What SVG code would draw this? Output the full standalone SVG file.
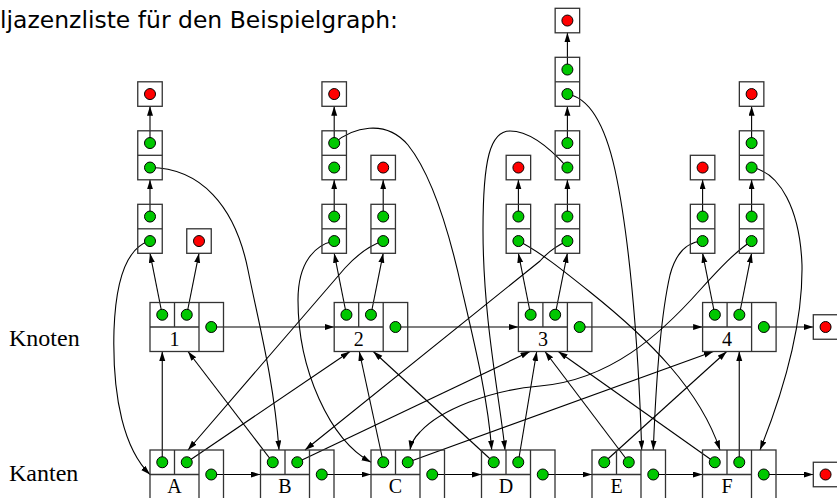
<svg xmlns="http://www.w3.org/2000/svg" xmlns:xlink="http://www.w3.org/1999/xlink" width="837" height="498" viewBox="0 0 837 498">
<style>
.box{fill:none;stroke:#333;stroke-width:1.3}
.g{fill:#00c800;stroke:#000;stroke-width:1}
.r{fill:#ff0000;stroke:#000;stroke-width:1}
.c{fill:none;stroke:#000;stroke-width:1.1;marker-end:url(#ah)}
.lab{font-family:"Liberation Serif","Times New Roman",serif;font-size:20px;text-anchor:middle;fill:#000}
.side{font-family:"Liberation Serif","Times New Roman",serif;font-size:24px;fill:#000}
.title{font-family:"DejaVu Sans","Liberation Sans",sans-serif;font-size:22.5px;fill:#000}
</style>
<defs>
<marker id="ah" markerUnits="userSpaceOnUse" markerWidth="10" markerHeight="7" refX="9.5" refY="3" orient="auto">
<path d="M0,0 L9.5,3 L0,6 z" fill="#000"/>
</marker>
<g id="nodeShape">
<rect class="box" x="0" y="0" width="73.5" height="49"/>
<path class="box" d="M24.5,0 V24.5 M49,0 V49 M0,24.5 H49"/>
<circle class="g" cx="12.25" cy="12.25" r="5.5"/>
<circle class="g" cx="36.75" cy="12.25" r="5.5"/>
<circle class="g" cx="61.25" cy="24.5" r="5.5"/>
</g>
<g id="pair">
<rect class="box" x="0" y="0" width="24.5" height="49"/>
<path class="box" d="M0,24.5 H24.5"/>
<circle class="g" cx="12.25" cy="12.25" r="5.5"/>
<circle class="g" cx="12.25" cy="36.75" r="5.5"/>
</g>
<g id="nil">
<rect class="box" x="0" y="0" width="24.5" height="24.5"/>
<circle class="r" cx="12.25" cy="12.25" r="5.5"/>
</g>
</defs>
<rect x="0" y="0" width="837" height="498" fill="#fff"/>
<text class="title" x="0" y="28.3" textLength="398" lengthAdjust="spacingAndGlyphs">ljazenzliste für den Beispielgraph:</text>
<text class="side" x="9" y="346">Knoten</text>
<text class="side" x="9" y="480.7">Kanten</text>

<g id="connectors">
<!-- list chains -->
<path class="c" d="M150,216.55 V179.8"/>
<path class="c" d="M150,143.05 V106.3"/>
<path class="c" d="M334.2,216.55 V179.8"/>
<path class="c" d="M334.2,143.05 V106.3"/>
<path class="c" d="M383.2,216.55 V179.8"/>
<path class="c" d="M518.4,216.55 V179.8"/>
<path class="c" d="M567.4,216.55 V179.8"/>
<path class="c" d="M567.4,143.05 V106.3"/>
<path class="c" d="M567.4,69.55 V32.8"/>
<path class="c" d="M702.6,216.55 V179.8"/>
<path class="c" d="M751.6,216.55 V179.8"/>
<path class="c" d="M751.6,143.05 V106.3"/>
<!-- Knoten to lists -->
<path class="c" d="M162.25,314.75 L150,253.3"/>
<path class="c" d="M186.75,314.75 L199,253.3"/>
<path class="c" d="M346.45,314.75 L334.2,253.3"/>
<path class="c" d="M370.95,314.75 L383.2,253.3"/>
<path class="c" d="M530.65,314.75 L518.4,253.3"/>
<path class="c" d="M555.15,314.75 L567.4,253.3"/>
<path class="c" d="M714.85,314.75 L702.6,253.3"/>
<path class="c" d="M739.35,314.75 L751.6,253.3"/>
<!-- Knoten chain -->
<path class="c" d="M211.25,327 H334.2"/>
<path class="c" d="M395.45,327 H518.4"/>
<path class="c" d="M579.65,327 H702.6"/>
<path class="c" d="M763.85,327 H813.3"/>
<!-- Kanten chain -->
<path class="c" d="M211.25,474.5 H260.5"/>
<path class="c" d="M321.75,474.5 H371"/>
<path class="c" d="M432.25,474.5 H481.5"/>
<path class="c" d="M542.75,474.5 H592"/>
<path class="c" d="M653.25,474.5 H702.5"/>
<path class="c" d="M763.75,474.5 H813.3"/>
<!-- Kanten to Knoten -->
<path class="c" d="M162.25,462.25 L162.25,351.5"/>
<path class="c" d="M186.75,462.25 L350,351.5"/>
<path class="c" d="M272.75,462.25 L188,351.5"/>
<path class="c" d="M297.25,462.25 L530,351.5"/>
<path class="c" d="M383.25,462.25 L359.3,351.5"/>
<path class="c" d="M407.75,462.25 L713.3,351.5"/>
<path class="c" d="M493.75,462.25 L373.3,351.5"/>
<path class="c" d="M518.25,462.25 L536.7,351.5"/>
<path class="c" d="M604.25,462.25 L726.7,351.5"/>
<path class="c" d="M628.75,462.25 L545,351.5"/>
<path class="c" d="M714.75,462.25 L558.3,351.5"/>
<path class="c" d="M739.25,462.25 L739.25,351.5"/>
<!-- list elements to Kanten -->
<path class="c" d="M150,241.05 C128,247 116,275 114,330 C112,400 125,450 150,474.5"/>
<path class="c" d="M150,167.55 C200,168 235,205 248,270 C258,320 274,380 279,450"/>
<path class="c" d="M334.2,241.05 C315,245 298,262 298,300 C298,370 330,440 371,462.25"/>
<path class="c" d="M334.2,143.05 C352,128 385,118 408,145 C432,175 450,235 462,290 C476,350 488,400 491.7,450"/>
<path class="c" d="M383.2,241.05 C368,246 356,256 345,268 L188,450"/>
<path class="c" d="M518.4,241.05 C540,252 560,268 590,292 C650,340 700,390 720,450"/>
<path class="c" d="M567.4,241.05 C556,246 548,252 540,261 L305,450"/>
<path class="c" d="M567.4,167.55 C550,148 530,131 510,131 C490,131 483,160 483,230 C483,320 500,400 505,450"/>
<path class="c" d="M567.4,94.05 C590,98 605,125 615,170 C628,230 638,330 641.7,450"/>
<path class="c" d="M702.6,241.05 C688,242 676,252 670,275 C662,310 656,380 653.3,450"/>
<path class="c" d="M751.6,241.05 C735,252 720,268 700,290 C660,335 610,380 540,386 C490,390 440,410 420,432 C414,438 411,444 410,450"/>
<path class="c" d="M751.6,167.55 C780,172 800,210 802,265 C803,330 780,400 760,450"/>
</g>

<g id="knoten1"><use xlink:href="#nodeShape" x="150" y="302.5"/><text class="lab" x="174.5" y="346">1</text></g>
<g id="knoten2"><use xlink:href="#nodeShape" x="334.2" y="302.5"/><text class="lab" x="358.7" y="346">2</text></g>
<g id="knoten3"><use xlink:href="#nodeShape" x="518.4" y="302.5"/><text class="lab" x="542.9" y="346">3</text></g>
<g id="knoten4"><use xlink:href="#nodeShape" x="702.6" y="302.5"/><text class="lab" x="727.1" y="346">4</text></g>
<g id="knoten-nil"><use xlink:href="#nil" x="813.3" y="314.75"/></g>

<g id="kanteA"><use xlink:href="#nodeShape" x="150" y="450"/><text class="lab" x="174.5" y="493.3">A</text></g>
<g id="kanteB"><use xlink:href="#nodeShape" x="260.5" y="450"/><text class="lab" x="285" y="493.3">B</text></g>
<g id="kanteC"><use xlink:href="#nodeShape" x="371" y="450"/><text class="lab" x="395.5" y="493.3">C</text></g>
<g id="kanteD"><use xlink:href="#nodeShape" x="481.5" y="450"/><text class="lab" x="506" y="493.3">D</text></g>
<g id="kanteE"><use xlink:href="#nodeShape" x="592" y="450"/><text class="lab" x="616.5" y="493.3">E</text></g>
<g id="kanteF"><use xlink:href="#nodeShape" x="702.5" y="450"/><text class="lab" x="727" y="493.3">F</text></g>
<g id="kanten-nil"><use xlink:href="#nil" x="813.3" y="462.25"/></g>

<g id="list1a">
<use xlink:href="#pair" x="137.75" y="204.3"/>
<use xlink:href="#pair" x="137.75" y="130.8"/>
<use xlink:href="#nil" x="137.75" y="81.8"/>
</g>
<g id="list1b"><use xlink:href="#nil" x="186.75" y="228.8"/></g>
<g id="list2a">
<use xlink:href="#pair" x="321.95" y="204.3"/>
<use xlink:href="#pair" x="321.95" y="130.8"/>
<use xlink:href="#nil" x="321.95" y="81.8"/>
</g>
<g id="list2b">
<use xlink:href="#pair" x="370.95" y="204.3"/>
<use xlink:href="#nil" x="370.95" y="155.3"/>
</g>
<g id="list3a">
<use xlink:href="#pair" x="506.15" y="204.3"/>
<use xlink:href="#nil" x="506.15" y="155.3"/>
</g>
<g id="list3b">
<use xlink:href="#pair" x="555.15" y="204.3"/>
<use xlink:href="#pair" x="555.15" y="130.8"/>
<use xlink:href="#pair" x="555.15" y="57.3"/>
<use xlink:href="#nil" x="555.15" y="8.3"/>
</g>
<g id="list4a">
<use xlink:href="#pair" x="690.35" y="204.3"/>
<use xlink:href="#nil" x="690.35" y="155.3"/>
</g>
<g id="list4b">
<use xlink:href="#pair" x="739.35" y="204.3"/>
<use xlink:href="#pair" x="739.35" y="130.8"/>
<use xlink:href="#nil" x="739.35" y="81.8"/>
</g>
</svg>
